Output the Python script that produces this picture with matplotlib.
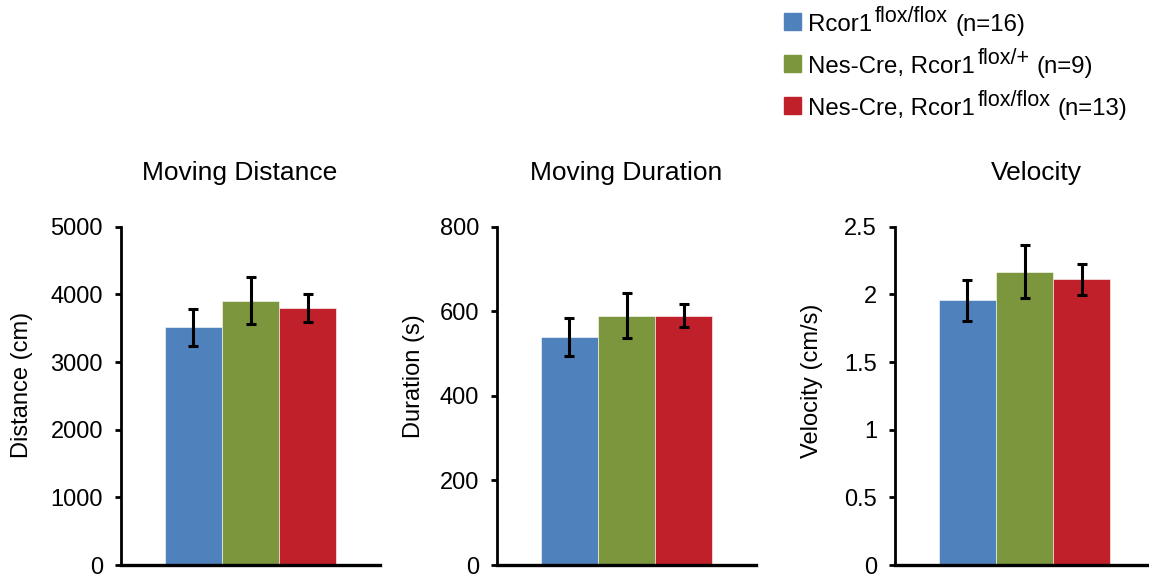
import matplotlib
matplotlib.use('Agg')
import matplotlib.pyplot as plt
from matplotlib.patches import Rectangle

plt.rcParams['font.family'] = ['Liberation Sans', 'DejaVu Sans']

# groups (legend text split into base, superscript and n)
group_base = ['Rcor1', 'Nes-Cre, Rcor1', 'Nes-Cre, Rcor1']
group_sup = ['flox/flox', 'flox/+', 'flox/flox']
group_n = ['(n=16)', '(n=9)', '(n=13)']
colors = ['#4F81BD', '#7B963D', '#C0202A']

# values (mean, sem)
distance_mean = [3515, 3905, 3795]
distance_err = [275, 350, 205]
duration_mean = [540, 590, 590]
duration_err = [45, 53, 28]
velocity_mean = [1.955, 2.168, 2.11]
velocity_err = [0.152, 0.197, 0.115]

titles = ['Moving Distance', 'Moving Duration', 'Velocity']
ylabels = ['Distance (cm)', 'Duration (s)', 'Velocity (cm/s)']
yticks = [[0, 1000, 2000, 3000, 4000, 5000],
          [0, 200, 400, 600, 800],
          [0, 0.5, 1, 1.5, 2, 2.5]]
ytick_labels = [['0', '1000', '2000', '3000', '4000', '5000'],
                ['0', '200', '400', '600', '800'],
                ['0', '0.5', '1', '1.5', '2', '2.5']]

means = [distance_mean, duration_mean, velocity_mean]
errs = [distance_err, duration_err, velocity_err]

W, H = 1149, 574
fig = plt.figure(figsize=(W / 100, H / 100), dpi=100)

def fx(px):
    return px / W

def fy(py):
    return 1 - py / H

ax_left = [121, 497, 895]
title_x = [240, 626, 1036]
ylabel_x = [22, 414, 812]
ylabel_y = [385, 376, 381]

for i in range(3):
    ax = fig.add_axes([fx(ax_left[i]), fy(565), 259 / W, (565 - 226.7) / H])
    x = [0, 1, 2]
    ax.bar(x, means[i], width=1.0, color=colors, edgecolor='white', linewidth=0.4)
    ax.errorbar(x, means[i], yerr=errs[i], fmt='none', ecolor='black',
                elinewidth=2.2, capsize=3.3, capthick=2.2)
    ax.set_xlim(1 - 2.27, 1 + 2.27)
    ax.set_ylim(yticks[i][0], yticks[i][-1])
    ax.set_yticks(yticks[i])
    ax.set_yticklabels(ytick_labels[i])
    ax.set_xticks([])
    for s in ['top', 'right']:
        ax.spines[s].set_visible(False)
    ax.spines['left'].set_linewidth(2)
    ax.spines['bottom'].set_linewidth(2.4)
    ax.tick_params(axis='y', length=4, width=2, labelsize=17, pad=9)
    fig.text(fx(title_x[i]), fy(180), titles[i], fontsize=19, ha='center', va='baseline')
    fig.text(fx(ylabel_x[i]), fy(ylabel_y[i]), ylabels[i], fontsize=17,
             rotation=90, ha='center', va='center')

# legend drawn by hand so the superscripts keep their size
renderer = fig.canvas.get_renderer()
baselines = [31, 73, 115]
for k in range(3):
    yb = baselines[k]
    fig.add_artist(Rectangle((fx(784), fy(yb - 1)), 17 / W, 17 / H,
                             color=colors[k], transform=fig.transFigure))
    t = fig.text(fx(808), fy(yb), group_base[k], fontsize=17.3, va='baseline')
    x1 = t.get_window_extent(renderer).x1
    s = fig.text((x1 + 3) / W, fy(yb - 9), group_sup[k], fontsize=15.5, va='baseline')
    x2 = s.get_window_extent(renderer).x1
    fig.text((x2 + 7) / W, fy(yb), group_n[k], fontsize=17.3, va='baseline')

fig.savefig('out.png', dpi=100)
